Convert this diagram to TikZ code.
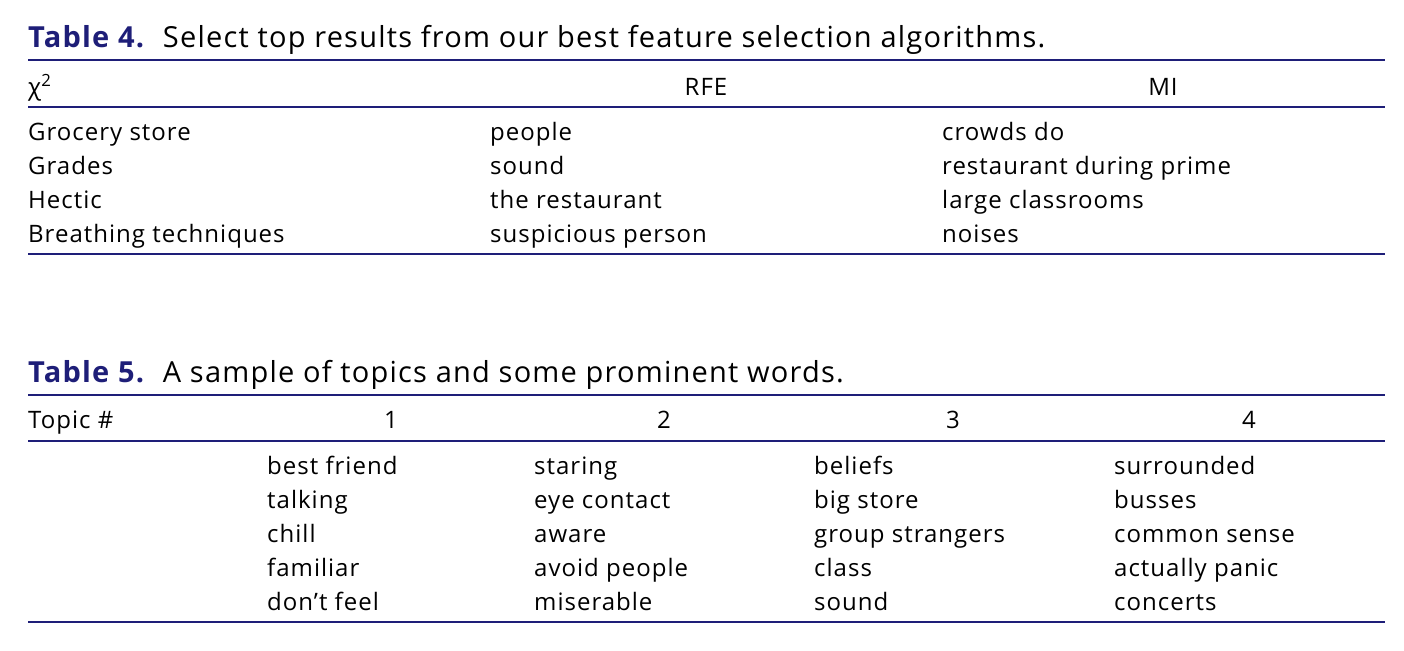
\documentclass[tikz,border=0pt]{standalone}
\usepackage{fontspec}
\setmainfont{Open Sans}[LetterSpace=4.2]
\definecolor{tfblue}{RGB}{30,30,120}
\tikzset{
  cell/.style={anchor=base west, inner sep=0pt, font=\fontsize{24}{28}\selectfont},
  head/.style={anchor=base, inner sep=0pt, font=\fontsize{24}{28}\selectfont},
  capt/.style={anchor=base west, inner sep=0pt, font=\fontsize{29}{34}\selectfont},
  rule/.style={tfblue, line width=1.3pt}
}
\begin{document}
\begin{tikzpicture}[x=1pt, y=-1pt]
\useasboundingbox (0,0) rectangle (1404,650);
% Table 4
\node [capt] (cap4) at (28,48) {\textcolor{tfblue}{\textbf{Table 4.}}\ \ Select\ top\ results\ from\ our\ best\ feature\ selection\ algorithms.};
\draw [rule] (28,60) -- (1385,60);
\node [cell] (h41) at (28,96) {χ\textsuperscript{2}};
\node [head] (h42) at (706,96) {RFE};
\node [head] (h43) at (1163,96) {MI};
\draw [rule] (28,107) -- (1385,107);
\foreach \a/\b/\c [count=\i] in {Grocery store/people/crowds do,
    Grades/sound/restaurant during prime,
    Hectic/the restaurant/large classrooms,
    Breathing techniques/suspicious person/noises} {
  \node [cell] (a\i) at (28,140+34*\i-34) {\a};
  \node [cell] (b\i) at (490,140+34*\i-34) {\b};
  \node [cell] (c\i) at (942,140+34*\i-34) {\c};
}
\draw [rule] (28,254) -- (1385,254);
% Table 5
\node [capt] (cap5) at (28,382) {\textcolor{tfblue}{\textbf{Table 5.}}\ \ A\ sample\ of\ topics\ and\ some\ prominent\ words.};
\draw [rule] (28,395) -- (1385,395);
\node [cell] (h50) at (28,428) {Topic \#};
\node [head] (h51) at (391,428) {1};
\node [head] (h52) at (664,428) {2};
\node [head] (h53) at (953,428) {3};
\node [head] (h54) at (1249,428) {4};
\draw [rule] (28,441) -- (1385,441);
\foreach \p/\q/\r/\s [count=\i] in {best friend/staring/beliefs/surrounded,
    talking/eye contact/big store/busses,
    chill/aware/group strangers/common sense,
    familiar/avoid people/class/actually panic,
    don’t feel/miserable/sound/concerts} {
  \node [cell] (p\i) at (267,474+34*\i-34) {\p};
  \node [cell] (q\i) at (534,474+34*\i-34) {\q};
  \node [cell] (r\i) at (814,474+34*\i-34) {\r};
  \node [cell] (s\i) at (1114,474+34*\i-34) {\s};
}
\draw [rule] (28,622) -- (1385,622);
\end{tikzpicture}
\end{document}
